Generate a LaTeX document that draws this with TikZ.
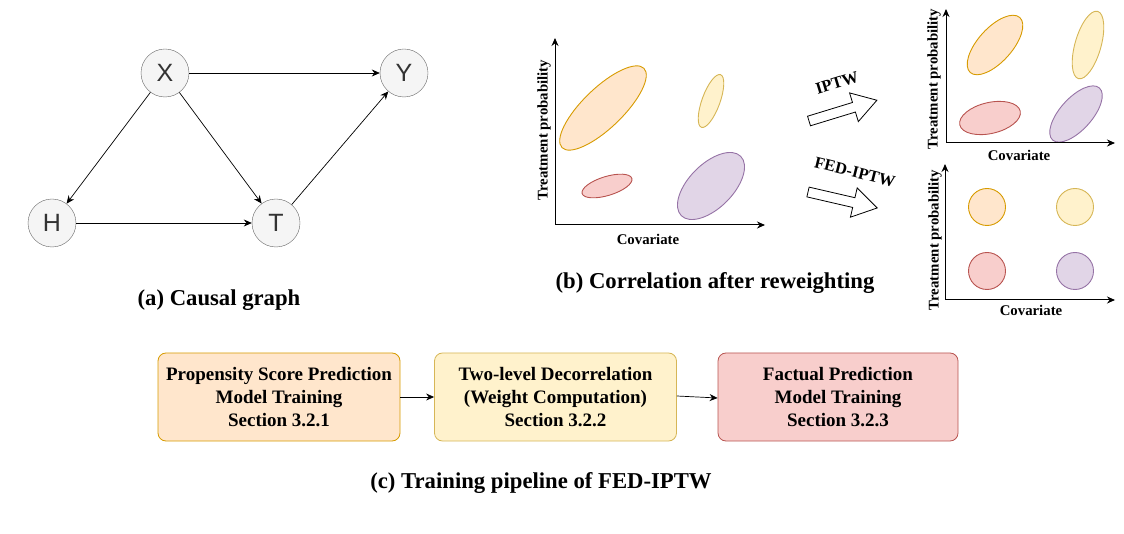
\documentclass[tikz,border=0pt]{standalone}
\usepackage{fontspec}
\setmainfont{Liberation Serif}
\newfontfamily\arialf{Liberation Sans}
\usetikzlibrary{arrows.meta,shapes.geometric}
\definecolor{orF}{HTML}{FFE6CC}\definecolor{orD}{HTML}{D79B00}
\definecolor{yeF}{HTML}{FFF2CC}\definecolor{yeD}{HTML}{D6B656}
\definecolor{reF}{HTML}{F8CECC}\definecolor{reD}{HTML}{B85450}
\definecolor{puF}{HTML}{E1D5E7}\definecolor{puD}{HTML}{9673A6}
\definecolor{grF}{HTML}{F5F5F5}\definecolor{grD}{HTML}{666666}
\definecolor{txt}{HTML}{333333}
\tikzset{
  gnode/.style={circle,draw=grD,fill=grF,minimum size=48pt,inner sep=0pt,font=\arialf\fontsize{25}{25}\selectfont,text=txt},
  garrow/.style={-{Stealth[length=8pt,width=7pt]},line width=0.7pt},
  axis/.style={-{Stealth[length=8pt,width=7pt]},line width=1pt},
  orE/.style={draw=orD,fill=orF,line width=0.9pt},
  yeE/.style={draw=yeD,fill=yeF,line width=0.9pt},
  reE/.style={draw=reD,fill=reF,line width=0.9pt},
  puE/.style={draw=puD,fill=puF,line width=0.9pt},
  axlab/.style={font=\bfseries\fontsize{14.8}{14.8}\selectfont,inner sep=0pt},
  arlab/.style={font=\bfseries\fontsize{16.5}{16.5}\selectfont,inner sep=0pt},
  captext/.style={font=\bfseries\fontsize{22.7}{22.7}\selectfont,inner sep=0pt},
  pbox/.style={rounded corners=8pt,minimum width=242pt,minimum height=88pt,line width=0.8pt,align=center,font=\bfseries\fontsize{19}{23}\selectfont},
  barrow/.style={draw=black,fill=white,line width=0.8pt},
}
\begin{document}
\begin{tikzpicture}[x=1pt,y=-1pt]
\useasboundingbox (0,0) rectangle (1124,534);
% (a) causal graph
\node[gnode] (X) at (165,73) {X};
\node[gnode] (Y) at (404,73) {Y};
\node[gnode] (H) at (52,223) {H};
\node[gnode] (T) at (276,223) {T};
\draw[garrow] (X) -- (Y);
\draw[garrow] (X) -- (H);
\draw[garrow] (X) -- (T);
\draw[garrow] (H) -- (T);
\draw[garrow] (T) -- (Y);
\node[captext] (capa) at (219,300) {(a) Causal graph};
% (b) scatter
\coordinate (bo) at (555,225);
\coordinate (by) at (555,38);
\coordinate (bx) at (765,225);
\draw[orE,rotate around={44:(603,108)}] (603,108) ellipse [x radius=57,y radius=20];
\draw[yeE,rotate around={70:(711,101)}] (711,101) ellipse [x radius=28,y radius=9];
\draw[reE,rotate around={17:(607,186)}] (607,186) ellipse [x radius=26,y radius=9.5];
\draw[puE,rotate around={45:(711,186)}] (711,186) ellipse [x radius=42,y radius=22];
\draw[axis] (bo) -- (by);
\draw[axis] (bo) -- (bx);
\node[axlab,rotate=90] (bty) at (544,130) {Treatment probability};
\node[axlab] (btx) at (648,239) {Covariate};
\node[captext] (capb) at (715,283) {(b) Correlation after reweighting};
% block arrows
\begin{scope}[shift={(809,121)},rotate=17]
\draw[barrow] (0,-5) -- (47,-5) -- (47,-15) -- (71,0) -- (47,15) -- (47,5) -- (0,5) -- cycle;
\end{scope}
\begin{scope}[shift={(808,192)},rotate=-13]
\draw[barrow] (0,-5) -- (47,-5) -- (47,-15) -- (71,0) -- (47,15) -- (47,5) -- (0,5) -- cycle;
\end{scope}
\node[arlab,rotate=17] (iptw) at (837,83) {IPTW};
\node[arlab,rotate=-14] (fiptw) at (855,172) {FED-IPTW};
% top right plot
\coordinate (co) at (946,143);
\coordinate (cy) at (946,9);
\coordinate (cx) at (1115,143);
\draw[orE,rotate around={48:(995,45)}] (995,45) ellipse [x radius=37,y radius=17];
\draw[yeE,rotate around={74:(1088,45)}] (1088,45) ellipse [x radius=35,y radius=13];
\draw[reE,rotate around={13:(990,118)}] (990,118) ellipse [x radius=31,y radius=15.5];
\draw[puE,rotate around={48:(1076,114)}] (1076,114) ellipse [x radius=35,y radius=16];
\draw[axis] (co) -- (cy);
\draw[axis] (co) -- (cx);
\node[axlab,rotate=90] (cty) at (934,79) {Treatment probability};
\node[axlab] (ctx) at (1019,155) {Covariate};
% bottom right plot
\coordinate (do) at (945,300);
\coordinate (dy) at (945,164);
\coordinate (dx) at (1115,300);
\draw[orE] (987,207) circle (18.5);
\draw[yeE] (1075,207) circle (18.5);
\draw[reE] (987,271) circle (18.5);
\draw[puE] (1075,271) circle (18.5);
\draw[axis] (do) -- (dy);
\draw[axis] (do) -- (dx);
\node[axlab,rotate=90] (dty) at (935,240) {Treatment probability};
\node[axlab] (dtx) at (1031,310) {Covariate};
% (c) pipeline
\node[pbox,draw=orD,fill=orF] (p1) at (279,397) {Propensity Score Prediction\\Model Training\\Section 3.2.1};
\node[pbox,draw=yeD,fill=yeF] (p2) at (555.5,397) {Two-level Decorrelation\\(Weight Computation)\\Section 3.2.2};
\node[pbox,draw=reD,fill=reF,minimum width=240pt] (p3) at (838,397) {Factual Prediction\\Model Training\\Section 3.2.3};
\draw[garrow] (p1) -- (p2);
\draw[garrow] ([yshift=1pt]p2.east) -- ([yshift=-1pt]p3.west);
\node[captext] (capc) at (541,483) {(c) Training pipeline of FED-IPTW};
\end{tikzpicture}
\end{document}
